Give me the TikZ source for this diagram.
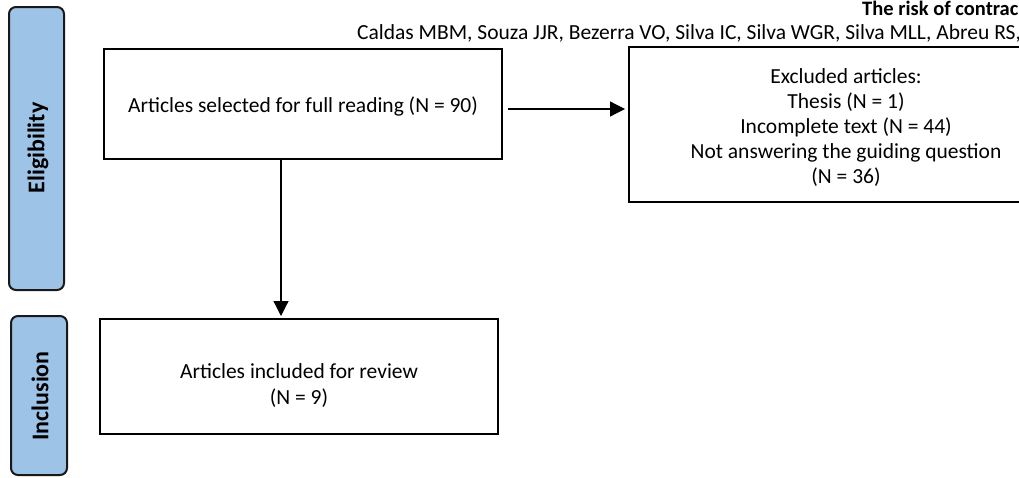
\documentclass[tikz,border=0pt]{standalone}
\usepackage{fontspec}
\setmainfont{Carlito}
\usetikzlibrary{arrows.meta}
\definecolor{sidebar}{HTML}{9DC3E6}
\begin{document}
\begin{tikzpicture}[x=1pt,y=-1pt,
  sidebox/.style={draw=black!90,line width=2pt,fill=sidebar,rounded corners=7pt},
  flowbox/.style={draw=black,line width=2.4pt,fill=white},
  txt/.style={font=\fontsize{21.5}{25.5}\selectfont,align=center,inner sep=0pt},
  sidetxt/.style={font=\fontsize{24}{26}\selectfont\bfseries,rotate=90,inner sep=0pt},
  conn/.style={line width=1.2pt,-{Triangle[length=15pt,width=15pt]}}]
\useasboundingbox (0,0) rectangle (1019,477);
\clip (0,0) rectangle (1019,477);
% sidebars
\draw[sidebox] (9,7) rectangle (64,290);
\node[sidetxt] (elig) at (38,148) {Eligibility};
\draw[sidebox] (11,316) rectangle (67,475);
\node[sidetxt] (incl) at (40,396) {Inclusion};
% header
\node[font=\fontsize{20.5}{22}\selectfont\bfseries,anchor=base west,inner sep=0pt] (title) at (862,15) {The risk of contrac};
\node[font=\fontsize{21.5}{23}\selectfont,anchor=base west,inner sep=0pt] (authors) at (357,39) {Caldas MBM, Souza JJR, Bezerra VO, Silva IC, Silva WGR, Silva MLL, Abreu RS,};
% boxes
\draw[flowbox] (104,49) rectangle (502,159);
\node[txt] (sel) at (303,106) {Articles selected for full reading (N = 90)};
\coordinate (selE) at (508,109);
\coordinate (selS) at (281,159);
\draw[flowbox] (629,47) rectangle (1030,202);
\node[txt,font=\fontsize{21.5}{25}\selectfont] (exc) at (846,128) {Excluded articles:\\Thesis (N = 1)\\Incomplete text (N = 44)\\Not answering the guiding question\\(N = 36)};
\coordinate (excW) at (625,109);
\draw[flowbox] (100,319) rectangle (498,434);
\node[txt,font=\fontsize{21.5}{26}\selectfont] (inc) at (299,386) {Articles included for review\\(N = 9)};
\coordinate (incN) at (281,316);
% connectors
\draw[conn] (selE) -- (excW);
\draw[conn] (selS) -- (incN);
\end{tikzpicture}
\end{document}
